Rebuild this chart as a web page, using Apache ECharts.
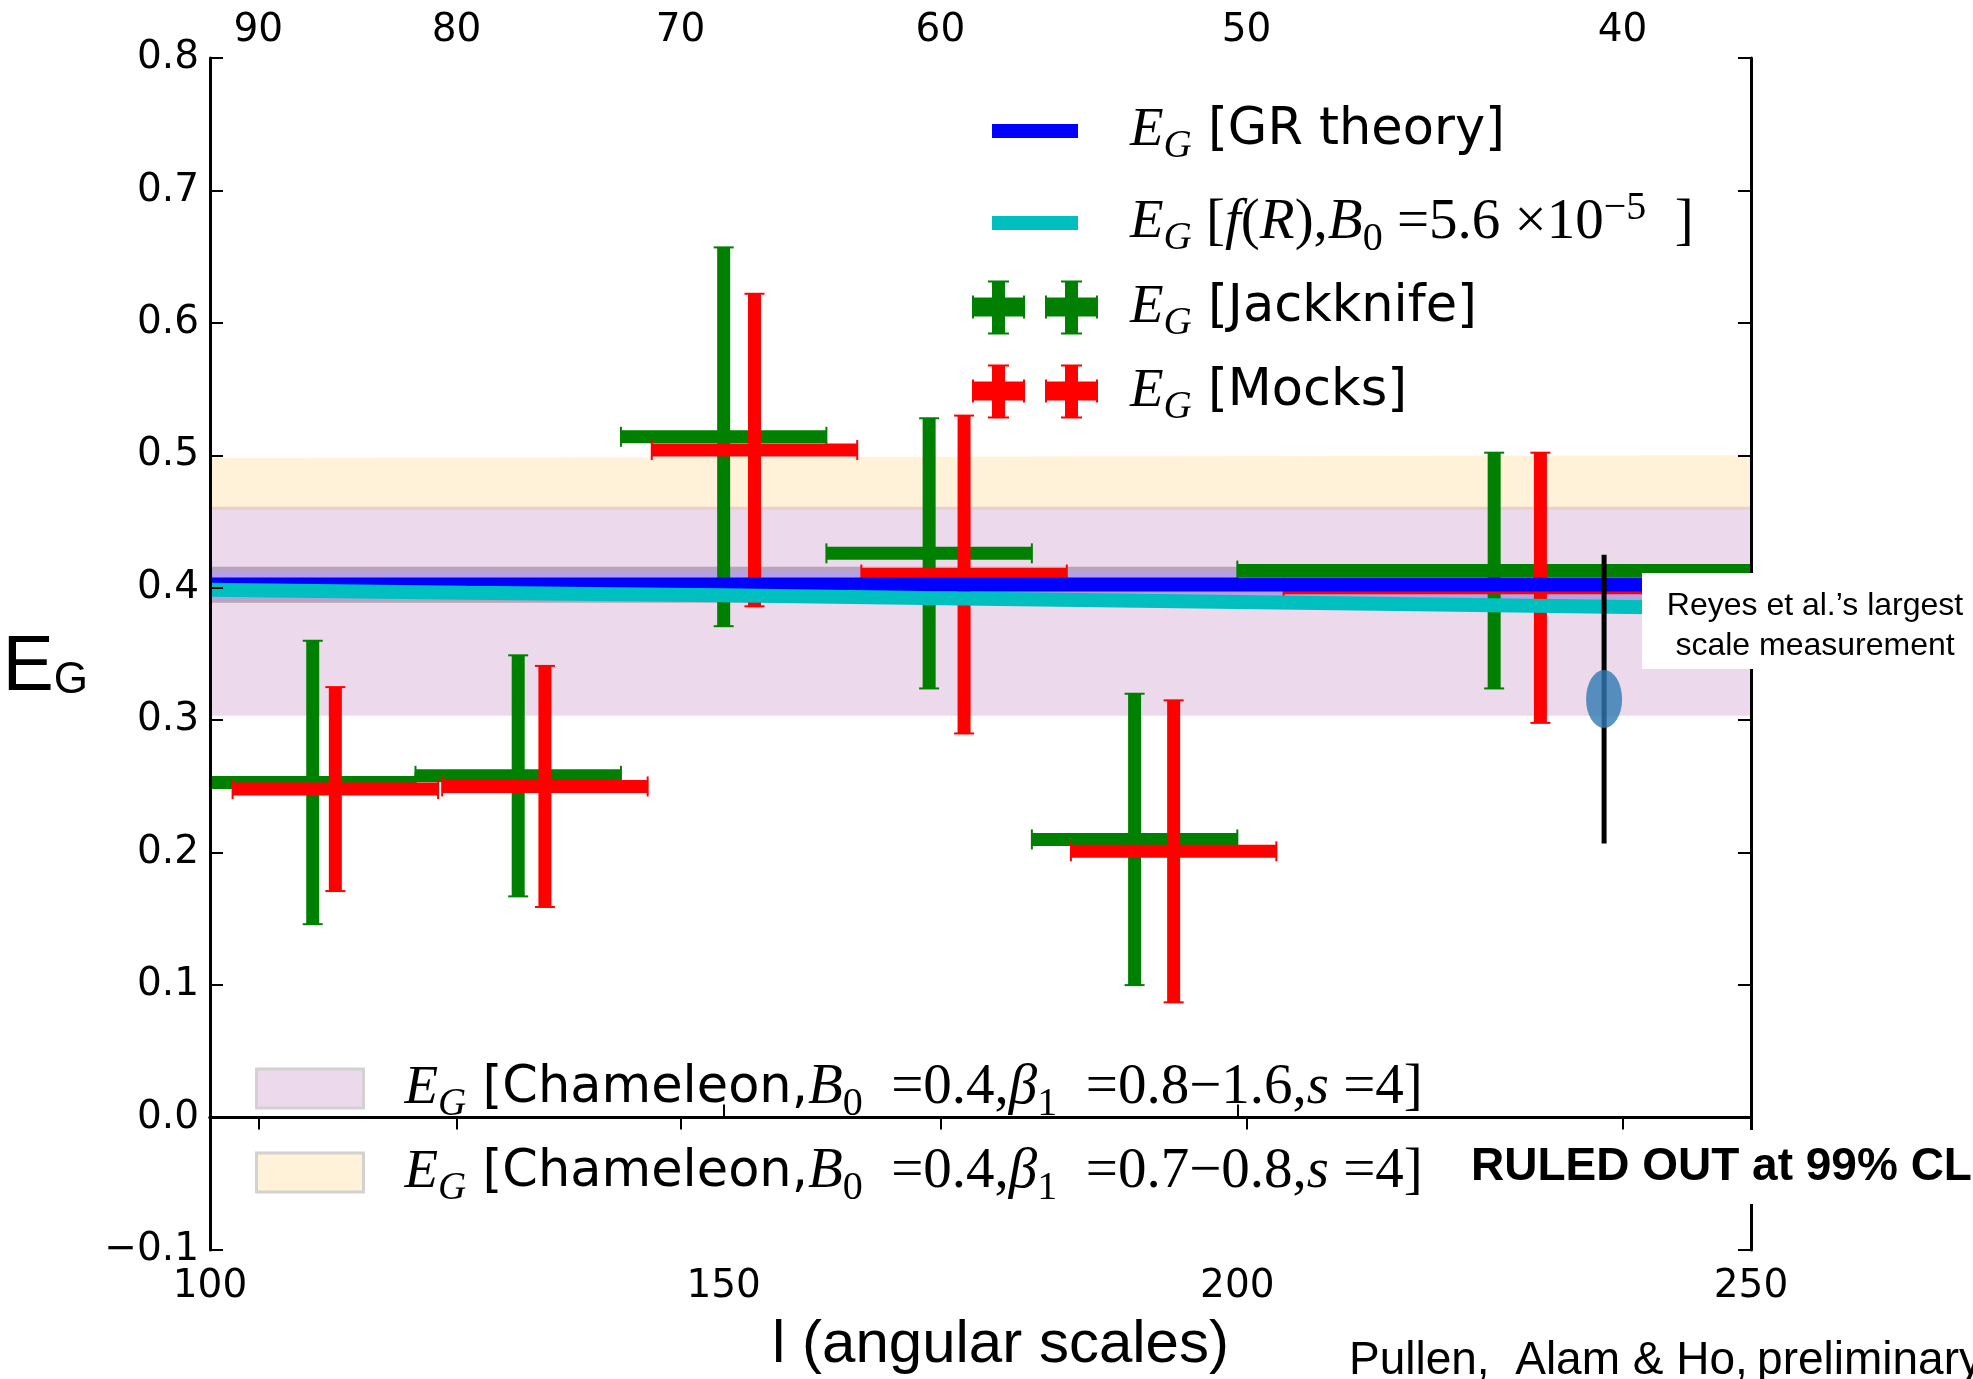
<!DOCTYPE html>
<html>
<head>
<meta charset="utf-8">
<title>E_G versus angular scale</title>
<script src="https://cdn.jsdelivr.net/npm/echarts@6/dist/echarts.min.js"></script>
<style>
  html, body { margin: 0; padding: 0; background: #ffffff; }
  #chart { width: 1973px; height: 1379px; }
</style>
</head>
<body>
<div id="chart"></div>
<script>
// ---- measurements: jackknife errors ----
const jackknifeL       = [110, 130, 150, 170, 190, 225];
const jackknifeHalfBin = [10, 10, 10, 10, 10, 25];
const jackknifeEG      = [0.253, 0.258, 0.514, 0.426, 0.210, 0.413];
const jackknifeErr     = [0.107, 0.091, 0.143, 0.102, 0.110, 0.089];

// ---- same bins, errors from mock catalogues (points offset by 2% in l) ----
const mocksL       = [112.2, 132.6, 153.0, 173.4, 193.8, 229.5];
const mocksHalfBin = [10, 10, 10, 10, 10, 25];
const mocksEG      = [0.248, 0.250, 0.504, 0.410, 0.201, 0.400];
const mocksErr     = [0.077, 0.091, 0.118, 0.120, 0.114, 0.102];

// ---- theory curves ----
const grL  = [100, 240];
const grEG = [0.4025, 0.4025];
const fRL  = [100, 125, 150, 175, 200, 225, 240];
const fREG = [0.3985, 0.3963, 0.3943, 0.3918, 0.3893, 0.3868, 0.3853];

// ---- shaded model ranges ----
const bandL        = [100, 250];
const chamWideLo   = [0.3034, 0.3034];   // beta1 = 0.8-1.6
const chamWideHi   = [0.4612, 0.4612];
const chamNarrowLo = [0.4589, 0.4589];   // beta1 = 0.7-0.8
const chamNarrowHi = [0.498, 0.500];
const grBandLo     = [0.3887, 0.3887];
const grBandHi     = [0.4159, 0.4159];

// ---- earlier measurement (Reyes et al.) ----
const reyesL   = [235.7];
const reyesEG  = [0.316];
const reyesErr = [0.109];

// ---- secondary (top) axis: angular scale labels at their l positions ----
const topTickL      = [104.7, 124.0, 145.8, 171.1, 200.9, 237.5];
const topTickLabels = ['90', '80', '70', '60', '50', '40'];

const SANS = 'DejaVu Sans';
const SERIF = 'Liberation Serif';
const HELV = 'Liberation Sans';

function toTable(xs, ...cols) {
  return xs.map((x, i) => [x, ...cols.map(c => c[i])]);
}

function renderErrorBar(params, api) {
  const l = api.value(0), eg = api.value(1), half = api.value(2), err = api.value(3);
  const mid = api.coord([l, eg]);
  const xL = api.coord([l - half, eg])[0];
  const xR = api.coord([l + half, eg])[0];
  const yT = api.coord([l, eg + err])[1];
  const yB = api.coord([l, eg - err])[1];
  const color = api.visual('color');
  const bar = { stroke: color, lineWidth: 13, lineCap: 'butt' };
  const cap = { stroke: color, lineWidth: 2 };
  return {
    type: 'group',
    children: [
      { type: 'line', shape: { x1: xL, y1: mid[1], x2: xR, y2: mid[1] }, style: bar },
      { type: 'line', shape: { x1: mid[0], y1: yT, x2: mid[0], y2: yB }, style: bar },
      { type: 'line', shape: { x1: xL, y1: mid[1] - 10, x2: xL, y2: mid[1] + 10 }, style: cap },
      { type: 'line', shape: { x1: xR, y1: mid[1] - 10, x2: xR, y2: mid[1] + 10 }, style: cap },
      { type: 'line', shape: { x1: mid[0] - 10, y1: yT, x2: mid[0] + 10, y2: yT }, style: cap },
      { type: 'line', shape: { x1: mid[0] - 10, y1: yB, x2: mid[0] + 10, y2: yB }, style: cap }
    ]
  };
}

// filled band between lo/hi, one quad per pair of neighbouring samples
function bandRenderer(fill, edge) {
  return function (params, api) {
    const i = params.dataIndexInside;
    if (i >= params.dataInsideLength - 1) return null;
    const l0 = api.value(0, i), lo0 = api.value(1, i), hi0 = api.value(2, i);
    const l1 = api.value(0, i + 1), lo1 = api.value(1, i + 1), hi1 = api.value(2, i + 1);
    const a = api.coord([l0, lo0]), b = api.coord([l1, lo1]);
    const c = api.coord([l1, hi1]), d = api.coord([l0, hi0]);
    if (!edge) {
      return { type: 'polygon', shape: { points: [a, b, c, d] }, style: { fill: fill } };
    }
    const inset = 4;
    return {
      type: 'group',
      children: [
        { type: 'polygon', shape: { points: [a, b, c, d] }, style: { fill: edge } },
        { type: 'polygon', shape: { points: [
            [a[0], a[1] - inset], [b[0], b[1] - inset], [c[0], c[1] + inset], [d[0], d[1] + inset]
          ] }, style: { fill: fill } }
      ]
    };
  };
}

function renderReyesBar(params, api) {
  const l = api.value(0), eg = api.value(1), err = api.value(2);
  const top = api.coord([l, eg + err]);
  const bot = api.coord([l, eg - err]);
  return { type: 'line', shape: { x1: top[0], y1: top[1], x2: bot[0], y2: bot[1] },
           style: { stroke: '#000000', lineWidth: 5 } };
}

// rich-text styles for legend labels with math-like sub/superscripts
function mathRich(padLeft) {
  const M = 57, S = 40, T = 51;
  return {
    e:  { fontFamily: SERIF, fontStyle: 'italic', fontSize: 55, lineHeight: 64, padding: [0, 0, 0, padLeft], color: '#000' },
    g:  { fontFamily: SERIF, fontStyle: 'italic', fontSize: 39, lineHeight: 64, padding: [32, 0, 0, 0], color: '#000' },
    t:  { fontFamily: SANS, fontSize: T, lineHeight: 64, color: '#000' },
    m:  { fontFamily: SERIF, fontSize: M, lineHeight: 64, color: '#000' },
    mi: { fontFamily: SERIF, fontStyle: 'italic', fontSize: M, lineHeight: 64, color: '#000' },
    s:  { fontFamily: SERIF, fontSize: S, lineHeight: 64, padding: [32, 0, 0, 0], color: '#000' },
    p:  { fontFamily: SERIF, fontSize: S, lineHeight: 64, padding: [0, 0, 30, 0], color: '#000' }
  };
}

const crossPath = (function () {
  function cross(ox) {
    const r = (x0, y0, x1, y1) => `M${ox + x0},${y0}H${ox + x1}V${y1}H${ox + x0}Z`;
    return r(0, 17, 53, 36) + r(20, 0, 33, 54) + r(16, 0, 37, 2) + r(16, 52, 37, 54) +
           r(0, 15, 2, 38) + r(51, 15, 53, 38);
  }
  return 'path://' + cross(0) + cross(73);
})();

function legendEntry(name, left, top, w, h, icon, padL, text, itemStyle) {
  const item = { name: name, icon: icon };
  if (itemStyle) item.itemStyle = itemStyle;
  return {
    data: [item], left: left, top: top, orient: 'vertical', padding: 0,
    itemWidth: w, itemHeight: h, itemGap: 0, selectedMode: false,
    formatter: () => text,
    textStyle: { color: '#000', rich: mathRich(padL) }
  };
}

const bandIconStyle = { borderColor: '#d2d2d2', borderWidth: 3 };

const axisFont = { fontFamily: SANS, fontSize: 39, color: '#000' };
const spine = { show: true, lineStyle: { color: '#000', width: 3 } };

const option = {
  animation: false,
  backgroundColor: '#ffffff',
  grid: { left: 210, right: 222, top: 58, bottom: 129, containLabel: false, outerBoundsMode: 'none' },
  xAxis: [
    {
      type: 'value', position: 'bottom', min: 100, max: 250, interval: 50, z: 10,
      axisLine: spine,
      axisTick: { inside: true, length: 13, lineStyle: { color: '#000', width: 2 } },
      axisLabel: Object.assign({ margin: 17 }, axisFont),
      splitLine: { show: false },
      name: 'l (angular scales)', nameLocation: 'middle', nameGap: 64,
      nameTextStyle: { fontFamily: HELV, fontSize: 60, lineHeight: 62, color: '#000', padding: [0, 0, 0, 40] }
    },
    {
      type: 'value', position: 'top', min: 100, max: 250, z: 10,
      axisLine: spine,
      axisTick: { inside: true, length: 12, customValues: topTickL, lineStyle: { color: '#000', width: 2 } },
      axisLabel: Object.assign({
        margin: 8, customValues: topTickL,
        formatter: v => topTickLabels[topTickL.indexOf(v)]
      }, axisFont),
      splitLine: { show: false }
    }
  ],
  yAxis: [
    {
      type: 'value', position: 'left', min: -0.1, max: 0.8, interval: 0.1, z: 10,
      axisLine: spine,
      axisTick: { inside: true, length: 13, lineStyle: { color: '#000', width: 2 } },
      axisLabel: Object.assign({
        margin: 11,
        formatter: v => (Math.abs(v) < 1e-9 ? 0 : v).toFixed(1).replace('-', '\u2212')
      }, axisFont),
      splitLine: { show: false },
      name: '{E|E}{G|G}', nameLocation: 'middle', nameGap: 122, nameRotate: 0,
      nameTextStyle: {
        padding: [30, 0, 0, 0],
        rich: {
          E: { fontFamily: HELV, fontSize: 77, lineHeight: 80, color: '#000' },
          G: { fontFamily: HELV, fontSize: 44, lineHeight: 80, padding: [23, 0, 0, 0], color: '#000' }
        }
      }
    },
    {
      type: 'value', position: 'right', min: -0.1, max: 0.8, interval: 0.1, z: 10,
      axisLine: spine,
      axisTick: { inside: true, length: 13, lineStyle: { color: '#000', width: 2 } },
      axisLabel: { show: false },
      splitLine: { show: false }
    }
  ],
  legend: [
    legendEntry('GR theory', 992, 95.5, 86, 14, 'rect', 47,
      '{e|E}{g|G}{t| [GR theory]}'),
    legendEntry('f(R)', 992, 187, 86, 14, 'rect', 47,
      '{e|E}{g|G}{m| [}{mi|f}{m|(}{mi|R}{m|),}{mi|B}{s|0}{m| =5.6 \u00d710}{p|\u22125}{m|  ]}'),
    legendEntry('Jackknife', 972, 272, 126, 54, crossPath, 27,
      '{e|E}{g|G}{t| [Jackknife]}'),
    legendEntry('Mocks', 972, 356, 126, 54, crossPath, 27,
      '{e|E}{g|G}{t| [Mocks]}'),
    legendEntry('Chameleon 0.8-1.6', 255, 1052.5, 107, 39, 'rect', 36,
      '{e|E}{g|G}{t| [Chameleon,}{mi|B}{s|0}{m|  =0.4,}{mi|\u03b2}{s|1}{m|  =0.8\u22121.6,}{mi|s}{m| =4]}',
      bandIconStyle),
    legendEntry('Chameleon 0.7-0.8', 255, 1136.5, 107, 39, 'rect', 36,
      '{e|E}{g|G}{t| [Chameleon,}{mi|B}{s|0}{m|  =0.4,}{mi|\u03b2}{s|1}{m|  =0.7\u22120.8,}{mi|s}{m| =4]}',
      bandIconStyle)
  ],
  series: [
    {
      name: 'Chameleon 0.7-0.8', type: 'custom', z: 1, clip: true,
      itemStyle: { color: 'rgba(255,165,0,0.15)' },
      renderItem: bandRenderer('rgba(255,165,0,0.15)'),
      encode: { x: 0, y: [1, 2] },
      data: toTable(bandL, chamNarrowLo, chamNarrowHi)
    },
    {
      name: 'Chameleon 0.8-1.6', type: 'custom', z: 1, clip: true,
      itemStyle: { color: 'rgba(128,0,128,0.15)' },
      renderItem: bandRenderer('rgba(128,0,128,0.15)'),
      encode: { x: 0, y: [1, 2] },
      data: toTable(bandL, chamWideLo, chamWideHi)
    },
    {
      name: 'GR range', type: 'custom', z: 1, clip: true,
      renderItem: bandRenderer('#b3a0e8', '#b9a5b9'),
      encode: { x: 0, y: [1, 2] },
      data: toTable(bandL, grBandLo, grBandHi)
    },
    {
      name: 'Jackknife', type: 'custom', z: 2, clip: true,
      itemStyle: { color: '#008000' },
      renderItem: renderErrorBar,
      encode: { x: 0, y: 1 },
      data: toTable(jackknifeL, jackknifeEG, jackknifeHalfBin, jackknifeErr)
    },
    {
      name: 'Mocks', type: 'custom', z: 2, clip: true,
      itemStyle: { color: '#ff0000' },
      renderItem: renderErrorBar,
      encode: { x: 0, y: 1 },
      data: toTable(mocksL, mocksEG, mocksHalfBin, mocksErr)
    },
    {
      name: 'GR theory', type: 'line', z: 3, color: '#0000ff',
      showSymbol: false, symbol: 'none',
      lineStyle: { color: '#0000ff', width: 14, cap: 'butt' },
      data: toTable(grL, grEG)
    },
    {
      name: 'f(R)', type: 'line', z: 3, color: '#00bfbf',
      showSymbol: false, symbol: 'none',
      lineStyle: { color: '#00bfbf', width: 14, cap: 'butt' },
      data: toTable(fRL, fREG)
    },
    {
      name: 'Reyes bar', type: 'custom', z: 4, clip: true,
      renderItem: renderReyesBar,
      encode: { x: 0, y: 1 },
      data: toTable(reyesL, reyesEG, reyesErr)
    },
    {
      name: 'Reyes', type: 'scatter', z: 4,
      symbol: 'circle', symbolSize: [36, 58],
      itemStyle: { color: '#3079b3' },
      data: toTable(reyesL, reyesEG)
    }
  ],
  graphic: [
    { type: 'rect', z: 100, shape: { x: 1642, y: 573, width: 340, height: 96 }, style: { fill: '#ffffff' } },
    { type: 'text', z: 101, x: 1815, y: 626,
      style: { text: 'Reyes et al.\u2019s largest\nscale measurement', fill: '#000',
               font: '32px "Liberation Sans"', lineHeight: 40, align: 'center', verticalAlign: 'middle' } },
    {
      type: 'text', z: 100, x: 1465, y: 1167,
      style: { text: 'RULED OUT at 99% CL', fill: '#000', font: 'bold 46px "Liberation Sans"',
               verticalAlign: 'middle', align: 'left', backgroundColor: '#ffffff',
               padding: [15, 6, 13, 6] }
    },
    {
      type: 'text', z: 100, x: 1349, y: 1361,
      style: { text: 'Pullen,  Alam & Ho,\u2009preliminary', fill: '#000', font: '46px "Liberation Sans"',
               verticalAlign: 'middle', align: 'left' }
    }
  ]
};

const chart = echarts.init(document.getElementById('chart'), null, { renderer: 'canvas' });
chart.setOption(option);
</script>
</body>
</html>
